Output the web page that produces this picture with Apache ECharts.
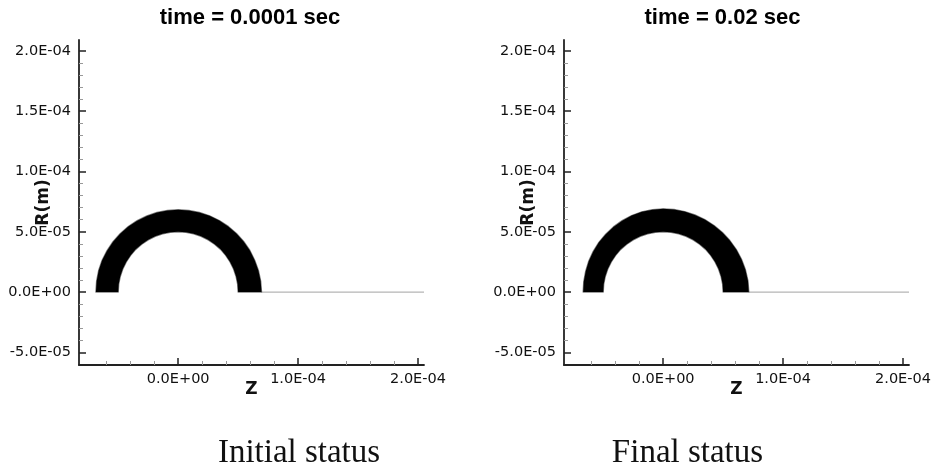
<!DOCTYPE html>
<html>
<head>
<meta charset="utf-8">
<script src="https://cdn.jsdelivr.net/npm/echarts@6/dist/echarts.min.js"></script>
<style>
html,body{margin:0;padding:0;background:#fff;}
#chart{width:937px;height:470px;}
</style>
</head>
<body>
<div id="chart"></div>
<script>
// ---- Data (metres) ----
var panelTitles = ['time = 0.0001 sec', 'time = 0.02 sec'];
var panelCaptions = ['Initial status', 'Final status'];

// Tick values
var xMajorTicks = [0, 1e-4, 2e-4];
var xMinorTicks = [-6e-5, -4e-5, -2e-5, 2e-5, 4e-5, 6e-5, 8e-5, 1.2e-4, 1.4e-4, 1.6e-4, 1.8e-4];
var yMajorTicks = [-5e-5, 0, 5e-5, 1e-4, 1.5e-4, 2e-4];
var yMinorTicks = [-4e-5, -3e-5, -2e-5, -1e-5, 1e-5, 2e-5, 3e-5, 4e-5, 6e-5, 7e-5, 8e-5, 9e-5,
                   1.1e-4, 1.2e-4, 1.3e-4, 1.4e-4, 1.6e-4, 1.7e-4, 1.8e-4, 1.9e-4];
var xRange = [-8.27e-5, 2.05e-4];
var yRange = [-6.05e-5, 2.09e-4];

// Ring boundaries (Z, R) in units of 1e-5 m,
// from the right end over the top to the left end.
var initialOuterZ = [6.95, 6.88, 6.69, 6.38, 5.98, 5.46, 4.86, 4.18, 3.43, 2.62, 1.77, 0.89, 0.00,
                     -0.89, -1.77, -2.61, -3.42, -4.16, -4.84, -5.43, -5.93, -6.34, -6.63, -6.80, -6.86];
var initialOuterR = [0.00, 0.91, 1.79, 2.64, 3.45, 4.19, 4.86, 5.44, 5.93, 6.32, 6.60, 6.76, 6.82,
                     6.76, 6.60, 6.31, 5.92, 5.43, 4.84, 4.17, 3.43, 2.63, 1.78, 0.90, 0.00];
var initialInnerZ = [5.00, 4.96, 4.83, 4.62, 4.33, 3.97, 3.54, 3.04, 2.50, 1.91, 1.29, 0.65, 0.00,
                     -0.65, -1.29, -1.91, -2.50, -3.04, -3.54, -3.97, -4.33, -4.62, -4.83, -4.96, -5.00];
var initialInnerR = [0.00, 0.65, 1.29, 1.91, 2.50, 3.04, 3.54, 3.97, 4.33, 4.62, 4.83, 4.96, 5.00,
                     4.96, 4.83, 4.62, 4.33, 3.97, 3.54, 3.04, 2.50, 1.91, 1.29, 0.65, 0.00];

var finalOuterZ = [7.14, 7.07, 6.86, 6.53, 6.10, 5.56, 4.94, 4.24, 3.47, 2.65, 1.79, 0.90, 0.00,
                   -0.90, -1.78, -2.63, -3.42, -4.15, -4.79, -5.36, -5.83, -6.20, -6.46, -6.62, -6.67];
var finalOuterR = [0.00, 0.93, 1.84, 2.71, 3.52, 4.27, 4.94, 5.52, 6.01, 6.39, 6.67, 6.84, 6.90,
                   6.83, 6.65, 6.34, 5.92, 5.40, 4.79, 4.12, 3.37, 2.57, 1.73, 0.87, 0.00];
var finalInnerZ = [5.00, 4.96, 4.83, 4.62, 4.33, 3.97, 3.54, 3.04, 2.50, 1.91, 1.29, 0.65, 0.00,
                   -0.65, -1.29, -1.91, -2.50, -3.04, -3.54, -3.97, -4.33, -4.62, -4.83, -4.96, -5.00];
var finalInnerR = [0.00, 0.65, 1.29, 1.91, 2.50, 3.04, 3.54, 3.97, 4.33, 4.62, 4.83, 4.96, 5.00,
                   4.96, 4.83, 4.62, 4.33, 3.97, 3.54, 3.04, 2.50, 1.91, 1.29, 0.65, 0.00];
var ringUnit = 1e-5;

// Symmetry-axis line segments (Z, R)
var initialAxisLineZ = [6.95e-5, 2.05e-4];
var finalAxisLineZ = [7.14e-5, 2.05e-4];
var axisLineR = [0, 0];

// ---- Helpers ----
function sci(v) {
  if (Math.abs(v) < 1e-15) return '0.0E+00';
  var e = Math.floor(Math.log10(Math.abs(v)) + 1e-9);
  var m = v / Math.pow(10, e);
  var es = (e < 0 ? '-' : '+') + (Math.abs(e) < 10 ? '0' : '') + Math.abs(e);
  return m.toFixed(1) + 'E' + es;
}
function zip(a, b, k) { k = k || 1; return a.map(function (v, i) { return [v * k, b[i] * k]; }); }

var labelFont = { fontFamily: 'DejaVu Sans', fontSize: 14.5, color: '#111' };
var nameFont = { fontFamily: 'DejaVu Sans', fontSize: 17, fontWeight: 'bold', color: '#111' };

var grids = [
  { left: 79, top: 40, width: 345, height: 325, outerBoundsMode: 'none', containLabel: false },
  { left: 564, top: 40, width: 345, height: 325, outerBoundsMode: 'none', containLabel: false }
];

var xAxes = [], yAxes = [];
[0, 1].forEach(function (g) {
  xAxes.push({
    type: 'value', gridIndex: g, position: 'bottom', min: xRange[0], max: xRange[1],
    name: 'Z', nameLocation: 'middle', nameGap: 16, nameTextStyle: nameFont, nameMoveOverlap: false,
    axisLine: { show: true, onZero: false, lineStyle: { color: '#222', width: 1.8 } },
    axisTick: { show: true, inside: true, length: 7, customValues: xMajorTicks, lineStyle: { color: '#222', width: 1.5 } },
    axisLabel: Object.assign({ show: true, customValues: xMajorTicks, margin: 7, formatter: sci }, labelFont),
    splitLine: { show: false }
  });
  xAxes.push({
    type: 'value', gridIndex: g, position: 'bottom', min: xRange[0], max: xRange[1],
    axisLine: { show: false, onZero: false },
    axisTick: { show: true, inside: true, length: 4, customValues: xMinorTicks, lineStyle: { color: '#999', width: 1 } },
    axisLabel: { show: false },
    splitLine: { show: false }
  });
  yAxes.push({
    type: 'value', gridIndex: g, position: 'left', min: yRange[0], max: yRange[1],
    name: 'R(m)', nameLocation: 'middle', nameGap: 27, nameTextStyle: nameFont, nameMoveOverlap: false,
    axisLine: { show: true, onZero: false, lineStyle: { color: '#222', width: 1.8 } },
    axisTick: { show: true, inside: true, length: 7, customValues: yMajorTicks, lineStyle: { color: '#222', width: 1.5 } },
    axisLabel: Object.assign({ show: true, customValues: yMajorTicks, margin: 8, formatter: sci }, labelFont),
    splitLine: { show: false }
  });
  yAxes.push({
    type: 'value', gridIndex: g, position: 'left', min: yRange[0], max: yRange[1],
    axisLine: { show: false, onZero: false },
    axisTick: { show: true, inside: true, length: 4, customValues: yMinorTicks, lineStyle: { color: '#999', width: 1 } },
    axisLabel: { show: false },
    splitLine: { show: false }
  });
});

function ringSeries(g, oz, orr, iz, ir) {
  var outer = zip(oz, orr, ringUnit);
  var inner = zip(iz, ir, ringUnit).reverse();
  return {
    type: 'custom', xAxisIndex: g * 2, yAxisIndex: g * 2, silent: true,
    data: [[0, 0]],
    renderItem: function (params, api) {
      var pts = outer.concat(inner).map(function (p) { return api.coord(p); });
      return {
        type: 'polygon',
        shape: { points: pts },
        style: { fill: '#000', stroke: 'rgba(0,0,0,0.5)', lineWidth: 1.4, lineJoin: 'round' }
      };
    },
    z: 3
  };
}

function axisLineSeries(g, zs) {
  return {
    type: 'line', xAxisIndex: g * 2, yAxisIndex: g * 2, silent: true,
    data: zip(zs, axisLineR), symbol: 'none',
    lineStyle: { color: '#b5b5b5', width: 1.2 }, z: 2
  };
}

var option = {
  backgroundColor: '#fff',
  animation: false,
  grid: grids,
  xAxis: xAxes,
  yAxis: yAxes,
  series: [
    axisLineSeries(0, initialAxisLineZ),
    axisLineSeries(1, finalAxisLineZ),
    ringSeries(0, initialOuterZ, initialOuterR, initialInnerZ, initialInnerR),
    ringSeries(1, finalOuterZ, finalOuterR, finalInnerZ, finalInnerR)
  ],
  graphic: [
    { type: 'text', x: 250, y: 17.5, style: { text: panelTitles[0], font: 'bold 22px "Liberation Sans"', fill: '#000', align: 'center', verticalAlign: 'middle' } },
    { type: 'text', x: 722.5, y: 17.5, style: { text: panelTitles[1], font: 'bold 22px "Liberation Sans"', fill: '#000', align: 'center', verticalAlign: 'middle' } },
    { type: 'text', x: 299, y: 453, style: { text: panelCaptions[0], font: '33px "Liberation Serif"', fill: '#111', align: 'center', verticalAlign: 'middle' } },
    { type: 'text', x: 687.5, y: 453, style: { text: panelCaptions[1], font: '33px "Liberation Serif"', fill: '#111', align: 'center', verticalAlign: 'middle' } }
  ]
};

var chart = echarts.init(document.getElementById('chart'), null, { renderer: 'canvas' });
chart.setOption(option);
</script>
</body>
</html>
